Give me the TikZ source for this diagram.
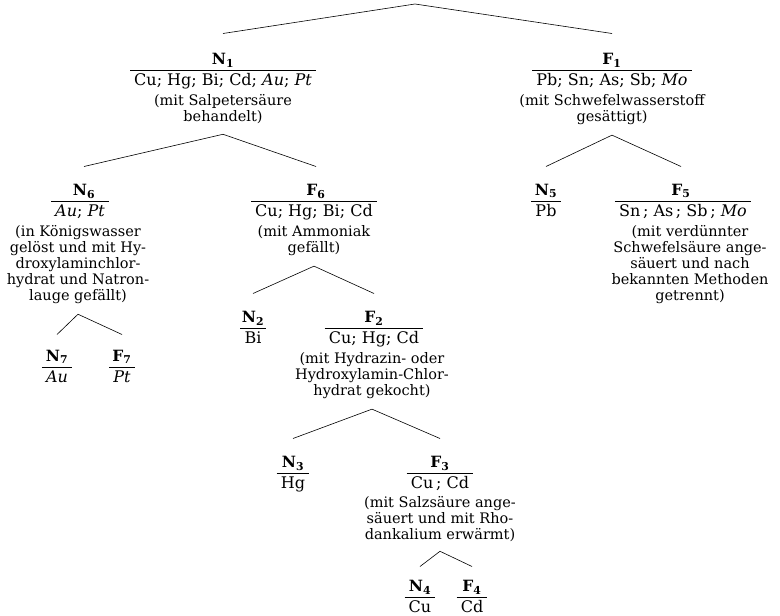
\documentclass[tikz,border=0pt]{standalone}
\usepackage{fontspec}
\setmainfont{DejaVu Serif}
\newcommand\lb[2]{#1\textsubscript{#2}}
\tikzset{
  lab/.style={anchor=base, inner sep=0pt, font=\fontsize{15.5}{17}\selectfont\bfseries},
  elem/.style={anchor=base, inner xsep=4pt, inner ysep=0pt, text height=15pt, text depth=0pt, font=\fontsize{16}{18}\selectfont},
  desc/.style={anchor=north, align=center, inner sep=0pt, font=\fontsize{14.5}{16}\selectfont},
  bar/.style={line width=0.6pt},
  conn/.style={line width=0.6pt},
}
\begin{document}
\begin{tikzpicture}[x=1pt,y=-1pt]
\useasboundingbox (0,0) rectangle (780,616);
\coordinate (top) at (415,4);
% level 1
\node[lab] (n1) at (223,64) {\lb{N}{1}};
\node[elem] (n1e) at (223,85) {Cu; Hg; Bi; Cd; \textit{Au}; \textit{Pt}};
\node[desc] (n1d) at (223,94.5) {(mit Salpetersäure\\behandelt)};
\node[lab] (f1) at (612,64) {\lb{F}{1}};
\node[elem] (f1e) at (612,85) {Pb; Sn; As; Sb; \textit{Mo}};
\node[desc] (f1d) at (612,94.5) {(mit Schwefelwasserstoff\\gesättigt)};
% level 2
\node[lab] (n6) at (84,195) {\lb{N}{6}};
\node[elem] (n6e) at (80,216) {\textit{Au}; \textit{Pt}};
\node[desc] (n6d) at (78,225.5) {(in Königswasser\\gelöst und mit Hy-\\droxylaminchlor-\\hydrat und Natron-\\lauge gefällt)};
\node[lab] (f6) at (316,195) {\lb{F}{6}};
\node[elem] (f6e) at (314,216) {Cu; Hg; Bi; Cd};
\node[desc] (f6d) at (314,225.5) {(mit Ammoniak\\gefällt)};
\node[lab] (n5) at (546,195) {\lb{N}{5}};
\node[elem] (n5e) at (546,216) {Pb};
\node[lab] (f5) at (681,195) {\lb{F}{5}};
\node[elem] (f5e) at (683,216) {Sn\,; As\,; Sb\,; \textit{Mo}};
\node[desc] (f5d) at (690,225.5) {(mit verdünnter\\Schwefelsäure ange-\\säuert und nach\\bekannten Methoden\\getrennt)};
% N7 / F7
\node[lab] (n7) at (57,361) {\lb{N}{7}};
\node[elem] (n7e) at (57,382) {\textit{Au}};
\node[lab] (f7) at (122,361) {\lb{F}{7}};
\node[elem] (f7e) at (122,382) {\textit{Pt}};
% N2 / F2
\node[lab] (n2) at (253,322) {\lb{N}{2}};
\node[elem] (n2e) at (253,343) {Bi};
\node[lab] (f2) at (374,322) {\lb{F}{2}};
\node[elem] (f2e) at (374,343) {Cu; Hg; Cd};
\node[desc] (f2d) at (372,352.5) {(mit Hydrazin- oder\\Hydroxylamin-Chlor-\\hydrat gekocht)};
% N3 / F3
\node[lab] (n3) at (293,467) {\lb{N}{3}};
\node[elem] (n3e) at (293,488) {Hg};
\node[lab] (f3) at (440,467) {\lb{F}{3}};
\node[elem] (f3e) at (440,488) {Cu\,; Cd};
\node[desc] (f3d) at (440,496.5) {(mit Salzsäure ange-\\säuert und mit Rho-\\dankalium erwärmt)};
% N4 / F4
\node[lab] (n4) at (420,591) {\lb{N}{4}};
\node[elem] (n4e) at (420,612) {Cu};
\node[lab] (f4) at (472,591) {\lb{F}{4}};
\node[elem] (f4e) at (472,612) {Cd};
% bars
\foreach \e in {n1e,f1e,n6e,f6e,n5e,f5e,n7e,f7e,n2e,f2e,n3e,f3e,n4e,f4e}
  \draw[bar] (\e.north west) -- (\e.north east);
% apexes
\coordinate (a1) at ([yshift=-10pt]n1d.south);
\coordinate (a2) at ([yshift=-10pt]f1d.south);
\coordinate (a6) at ([yshift=-10pt]n6d.south);
\coordinate (a7) at ([yshift=-10pt]f6d.south);
\coordinate (a3) at ([yshift=-10pt]f2d.south);
\coordinate (a4) at ([yshift=-9pt]f3d.south);
% connectors
\draw[conn] ([yshift=19pt]n1.north) -- (top) -- ([yshift=19pt]f1.north);
\draw[conn] ([yshift=17pt]n6.north) -- (a1) -- ([yshift=17pt]f6.north);
\draw[conn] ([yshift=17pt]n5.north) -- (a2) -- ([yshift=17pt]f5.north);
\draw[conn] ([yshift=15pt]n7.north) -- (a6) -- ([yshift=15pt]f7.north);
\draw[conn] ([yshift=17pt]n2.north) -- (a7) -- ([yshift=17pt]f2.north);
\draw[conn] ([yshift=17pt]n3.north) -- (a3) -- ([yshift=17pt]f3.north);
\draw[conn] ([yshift=13pt]n4.north) -- (a4) -- ([yshift=13pt]f4.north);
\end{tikzpicture}
\end{document}
